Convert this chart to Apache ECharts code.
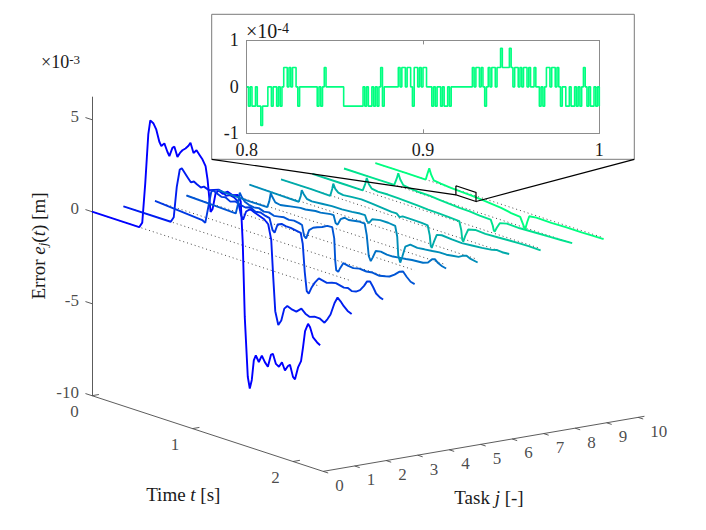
<!DOCTYPE html>
<html><head><meta charset="utf-8">
<script src="https://cdn.jsdelivr.net/npm/echarts@6/dist/echarts.min.js"></script>
<style>html,body{margin:0;padding:0;background:#fff}#c{width:706px;height:530px}</style>
</head><body><div id="c"></div>
<script>
// ---------------- DATA ----------------
const TASKS = [0,1,2,3,4,5,6,7,8,9];
const TIME_TICKS = [0,1,2];
const ERROR_TICKS = [-10,-5,0,5];          // x 10^-3 m
const TASK_TICKS = [0,1,2,3,4,5,6,7,8,9,10];
const T_END = 2.27;                         // end of recorded time [s]
// each task: [time s, error x10^-3 m]
const task0 = [[0,0],[0.47,0],[0.5,0.3],[0.53,2.5],[0.56,5.2],[0.58,6.0],[0.61,5.9],[0.64,5.6],[0.67,5.0],[0.69,4.8],[0.72,5.0],[0.75,4.6],[0.77,4.4],[0.8,4.9],[0.82,5.0],[0.85,4.5],[0.88,4.8],[0.9,4.95],[0.93,5.1],[0.96,5.3],[0.98,5.5],[1.01,5.0],[1.04,5.2],[1.07,5.0],[1.1,4.8],[1.13,4.5],[1.15,3.8],[1.18,2.1],[1.2,2.3],[1.23,3.2],[1.26,3.4],[1.3,3.3],[1.35,3.5],[1.4,3.4],[1.45,3.5],[1.48,3.2],[1.5,1.0],[1.52,-3.0],[1.55,-6.2],[1.57,-6.8],[1.59,-6.3],[1.61,-5.2],[1.63,-4.9],[1.66,-5.2],[1.69,-4.8],[1.72,-5.1],[1.75,-5.3],[1.78,-4.6],[1.8,-4.5],[1.83,-5.0],[1.86,-5.1],[1.89,-4.8],[1.92,-5.2],[1.95,-4.9],[1.97,-4.8],[2.0,-5.4],[2.02,-5.5],[2.05,-4.8],[2.08,-4.4],[2.1,-3.6],[2.12,-2.7],[2.15,-2.25],[2.17,-2.4],[2.2,-2.9],[2.24,-3.1],[2.27,-3.2]];
const task1 = [[0,0],[0.47,0],[0.5,0.3],[0.53,2.0],[0.56,3.0],[0.58,3.1],[0.61,2.9],[0.64,2.7],[0.67,2.5],[0.7,2.6],[0.73,2.5],[0.77,2.4],[0.8,2.5],[0.85,2.4],[0.9,2.5],[0.95,2.6],[0.98,2.55],[1.02,2.4],[1.06,2.5],[1.1,2.45],[1.14,2.3],[1.17,1.6],[1.19,1.4],[1.22,1.9],[1.26,2.1],[1.3,2.0],[1.35,1.9],[1.4,1.8],[1.44,1.6],[1.47,0.8],[1.49,-1.2],[1.51,-3.0],[1.54,-3.7],[1.57,-3.4],[1.6,-2.7],[1.63,-2.5],[1.67,-2.6],[1.72,-2.65],[1.77,-2.4],[1.81,-2.6],[1.85,-2.7],[1.9,-2.6],[1.95,-2.6],[2.0,-2.75],[2.03,-2.5],[2.06,-2.2],[2.1,-1.5],[2.13,-1.15],[2.16,-1.3],[2.19,-1.5],[2.23,-1.7],[2.27,-1.8]];
const task2 = [[0,0],[0.47,-0.2],[0.5,-0.3],[0.53,0.6],[0.56,1.5],[0.58,1.6],[0.62,1.5],[0.66,1.4],[0.7,1.45],[0.75,1.3],[0.8,1.4],[0.85,1.3],[0.9,1.25],[0.95,1.35],[1.0,1.2],[1.05,1.25],[1.1,1.15],[1.14,1.1],[1.17,0.5],[1.19,0.4],[1.22,0.9],[1.26,1.0],[1.3,0.95],[1.35,0.95],[1.4,0.9],[1.45,0.85],[1.47,0.3],[1.49,-1.2],[1.51,-2.2],[1.53,-2.3],[1.56,-1.9],[1.59,-1.6],[1.63,-1.3],[1.67,-1.35],[1.71,-1.4],[1.76,-1.3],[1.8,-1.25],[1.84,-1.3],[1.88,-1.35],[1.92,-1.3],[1.96,-1.4],[2.0,-1.35],[2.04,-1.2],[2.08,-0.9],[2.11,-0.6],[2.14,-0.55],[2.17,-0.8],[2.2,-1.1],[2.24,-1.25],[2.27,-1.3]];
const task3 = [[0,0],[0.3,-0.05],[0.49,-0.1],[0.51,0.4],[0.53,1.1],[0.55,0.9],[0.58,0.7],[0.62,0.6],[0.67,0.55],[0.72,0.6],[0.77,0.5],[0.82,0.55],[0.87,0.45],[0.92,0.5],[0.97,0.55],[1.02,0.5],[1.07,0.55],[1.12,0.5],[1.15,0.45],[1.17,-0.1],[1.19,-0.2],[1.22,0.3],[1.26,0.5],[1.3,0.6],[1.35,0.7],[1.4,0.85],[1.45,0.87],[1.47,0.3],[1.48,-0.9],[1.49,-1.4],[1.51,-1.45],[1.53,-1.2],[1.56,-0.89],[1.61,-0.95],[1.66,-0.98],[1.72,-0.9],[1.79,-0.93],[1.85,-0.88],[1.92,-0.93],[1.98,-0.85],[2.02,-0.79],[2.07,-0.6],[2.12,-0.35],[2.155,-0.28],[2.19,-0.5],[2.23,-0.7],[2.27,-0.76]];
const task4 = [[0,0],[0.3,-0.05],[0.49,-0.05],[0.51,0.3],[0.525,0.77],[0.54,0.6],[0.57,0.35],[0.62,0.3],[0.67,0.35],[0.72,0.4],[0.77,0.45],[0.82,0.5],[0.87,0.5],[0.92,0.55],[0.97,0.6],[1.02,0.6],[1.07,0.65],[1.12,0.7],[1.15,0.7],[1.17,0.3],[1.19,0.25],[1.22,0.6],[1.26,0.75],[1.3,0.7],[1.35,0.75],[1.4,0.8],[1.46,0.79],[1.48,0.2],[1.5,-0.9],[1.52,-1.14],[1.54,-0.9],[1.57,-0.5],[1.62,-0.45],[1.68,-0.5],[1.74,-0.5],[1.8,-0.45],[1.87,-0.4],[1.93,-0.35],[1.99,-0.32],[2.04,-0.3],[2.09,-0.2],[2.13,0.05],[2.16,0.1],[2.19,-0.05],[2.23,-0.15],[2.27,-0.2]];
const task5 = [[0,0],[0.3,-0.03],[0.49,-0.05],[0.51,0.3],[0.52,0.63],[0.54,0.45],[0.57,0.25],[0.62,0.2],[0.72,0.25],[0.82,0.3],[0.92,0.3],[1.02,0.35],[1.1,0.4],[1.15,0.4],[1.17,0.1],[1.19,0.05],[1.22,0.3],[1.3,0.4],[1.38,0.4],[1.45,0.35],[1.47,-0.2],[1.48,-1.2],[1.5,-1.55],[1.52,-1.2],[1.55,-0.6],[1.6,-0.4],[1.67,-0.45],[1.74,-0.4],[1.82,-0.35],[1.89,-0.3],[1.96,-0.3],[2.02,-0.25],[2.08,-0.2],[2.13,-0.05],[2.16,0.0],[2.2,-0.1],[2.27,-0.17]];
const task6 = [[0,0],[0.3,0.0],[0.49,-0.02],[0.51,0.4],[0.52,0.69],[0.54,0.45],[0.57,0.3],[0.62,0.25],[0.7,0.3],[0.8,0.34],[0.9,0.3],[1.0,0.25],[1.1,0.2],[1.15,0.2],[1.18,0.05],[1.21,0.15],[1.3,0.15],[1.4,0.13],[1.46,0.1],[1.48,-0.4],[1.49,-0.95],[1.5,-1.05],[1.52,-0.7],[1.55,-0.25],[1.6,-0.18],[1.7,-0.22],[1.8,-0.25],[1.9,-0.2],[2.0,-0.15],[2.1,-0.08],[2.15,0.0],[2.2,-0.03],[2.27,0.0]];
const task7 = [[0,0],[0.3,0.0],[0.5,0.0],[0.525,0.4],[0.54,0.74],[0.56,0.45],[0.59,0.25],[0.65,0.2],[0.75,0.22],[0.85,0.2],[0.95,0.18],[1.05,0.15],[1.15,0.12],[1.25,0.1],[1.35,0.08],[1.46,0.05],[1.48,-0.4],[1.49,-0.9],[1.5,-1.0],[1.52,-0.65],[1.55,-0.25],[1.62,-0.15],[1.72,-0.18],[1.85,-0.15],[1.95,-0.12],[2.05,-0.1],[2.15,-0.08],[2.27,-0.1]];
const task8 = [[0,0],[0.3,0.0],[0.5,0.0],[0.525,0.4],[0.54,0.71],[0.56,0.4],[0.59,0.15],[0.65,0.1],[0.75,0.05],[0.85,0.05],[0.95,0.0],[1.05,-0.05],[1.15,-0.08],[1.25,-0.1],[1.35,-0.15],[1.46,-0.17],[1.48,-0.45],[1.49,-0.7],[1.5,-0.75],[1.52,-0.5],[1.55,-0.2],[1.62,-0.1],[1.75,-0.12],[1.9,-0.08],[2.05,-0.05],[2.15,-0.03],[2.27,0.0]];
const task9 = [[0,0],[0.3,0.0],[0.5,0.0],[0.52,0.4],[0.535,0.67],[0.555,0.35],[0.58,0.1],[0.65,0.05],[0.75,0.0],[0.85,-0.03],[0.95,-0.05],[1.05,-0.1],[1.15,-0.15],[1.25,-0.2],[1.35,-0.3],[1.44,-0.35],[1.46,-0.6],[1.48,-0.85],[1.49,-0.92],[1.51,-0.5],[1.53,-0.15],[1.6,-0.1],[1.75,-0.12],[1.9,-0.1],[2.05,-0.1],[2.15,-0.08],[2.27,-0.07]];
const TASK_ERRORS = [task0,task1,task2,task3,task4,task5,task6,task7,task8,task9];

// zoomed window (task 9, t = 0.8 ... 1.0 s), quantised error in encoder steps
const ZOOM_TASK = 9;
const ZOOM_T = [0.8, 1.0];
const ZOOM_BOX_E = [-0.3, 0.2];             // x 10^-3 m, marker box on task 9
const INSET_T0 = 0.8, INSET_DT = 0.001;
const INSET_STEP = 0.415;                   // x 10^-4 m per encoder count
const INSET_COUNTS = [
 0,-1,0,-1,-1,0,-1, -1,-2,-1, -1,-1, 0,0,-1,0,0,-1,0,-1,
 0,1,1,0,1,0,1,1, 0,-1,0,0, 0,0,0,0,0,0,0,0, -1,0,-1, 0,1,
 0,0,0,0,0,0,0,0,0,0, -1,-1,-1,-1,-1,-1,-1,-1,-1,-1,-1,
 0,-1,0,-1,-1,0,-1,0,-1,0, 1, -1,0,0,0,0,0,0,0,0,
 1,0,1,1,0,1,1,0, -1, 1,1,0,1,0,1,1,0,0, 0,-1,0,-1,0,0,-1,
 0,-1,-1,0,-1,0, 0,0,0,0,0,0,0,0,0,0,0, 1,0,1,1,0,1,0, -1,
 0,1,0,1,1,0, 1,1,2,1,1,1,1,2, 1,0,1,1,0,1,0,1,1,0,1,
 0,0,1,0,0, -1,0,-1,0,1, 1,0,1,1,0,1, 0,-1,0,0,-1,
 -1,0,-1,-1,0,-1,0,-1,0, 1, 0,-1,0,-1,-1,0,-1,0,-1];
const INSET_X_TICKS_INTERVAL = 0.1;
const INSET_Y_TICKS_INTERVAL = 1;

// ---------------- LAYOUT (oblique 3-D view) ----------------
const W = 706, H = 530;
const ORIGIN = [92, 211.7];        // screen point of t=0, j=0, e=0
const T_PX = [100.5, 32.9];        // screen shift per second
const J_PX = [31.5, -5.4];         // screen shift per task
const E_PX = 18.4;                 // screen px per 1e-3 m (upwards)
const E_MIN = -10, E_MAX = 6.25, T_AX = 2.3, J_AX = 10.2;
const SERIF = 'Liberation Serif, DejaVu Serif, serif';
const TXT = '#1a1a1a';
const TICK_FS = 17, TITLE_FS = 19;

// (t, j, e) -> oblique axis units (u along screen x in s, v along screen y in 1e-3 m)
function proj(t, j, e) {
  return [t + j * J_PX[0] / T_PX[0], e - (t * T_PX[1] + j * J_PX[1]) / E_PX];
}
function pxToUV(x, y) { return [(x - ORIGIN[0]) / T_PX[0], (ORIGIN[1] - y) / E_PX]; }
function winter(j) {
  const c = j / (TASKS.length - 1);
  return 'rgb(0,' + Math.round(255 * c) + ',' + Math.round(255 * (1 - c / 2)) + ')';
}

const series = [];
// zero reference lines
series.push({
  type: 'lines', coordinateSystem: 'cartesian2d', xAxisIndex: 0, yAxisIndex: 0, silent: true, z: 1,
  lineStyle: { color: '#333', width: 1, type: [1, 3], opacity: 0.9 },
  data: TASKS.map(j => ({ coords: [proj(0, j, 0), proj(T_END, j, 0)] }))
});
// error curves
TASKS.forEach((j, k) => {
  series.push({
    type: 'line', name: 'Task ' + j, xAxisIndex: 0, yAxisIndex: 0, z: 3, silent: true,
    showSymbol: false, symbol: 'none',
    lineStyle: { color: winter(j), width: 1.9 }, itemStyle: { color: winter(j) },
    data: TASK_ERRORS[k].map(([t, e]) => proj(t, j, e))
  });
});
// 3-D axis lines and ticks
const axisSegs = [
  [proj(0, 0, E_MIN), proj(0, 0, E_MAX)],
  [proj(0, 0, E_MIN), proj(T_AX, 0, E_MIN)],
  [proj(T_AX, 0, E_MIN), proj(T_AX, J_AX, E_MIN)]
];
ERROR_TICKS.forEach(e => axisSegs.push([proj(0, 0, e), proj(-0.065, 0, e)]));
TIME_TICKS.forEach(t => axisSegs.push([proj(t, 0, E_MIN), proj(t, 0.22, E_MIN)]));
TASK_TICKS.forEach(j => axisSegs.push([proj(T_AX, j, E_MIN), proj(T_AX + 0.05, j, E_MIN)]));
series.push({
  type: 'lines', coordinateSystem: 'cartesian2d', xAxisIndex: 0, yAxisIndex: 0, silent: true, z: 2,
  lineStyle: { color: '#4a4a4a', width: 0.9, opacity: 1 },
  data: axisSegs.map(c => ({ coords: c }))
});
// zoom marker box + connectors
const zb = [
  proj(ZOOM_T[0], ZOOM_TASK, ZOOM_BOX_E[1]), proj(ZOOM_T[1], ZOOM_TASK, ZOOM_BOX_E[1]),
  proj(ZOOM_T[1], ZOOM_TASK, ZOOM_BOX_E[0]), proj(ZOOM_T[0], ZOOM_TASK, ZOOM_BOX_E[0]),
  proj(ZOOM_T[0], ZOOM_TASK, ZOOM_BOX_E[1])
];
const INSET_BOX = { x: 211.7, y: 14.3, w: 422.6, h: 145 };
series.push({
  type: 'lines', coordinateSystem: 'cartesian2d', xAxisIndex: 0, yAxisIndex: 0, silent: true, z: 4,
  polyline: true, lineStyle: { color: '#000', width: 1.2, opacity: 1 },
  data: [
    { coords: zb },
    { coords: [pxToUV(INSET_BOX.x, INSET_BOX.y + INSET_BOX.h), zb[3]] },
    { coords: [pxToUV(INSET_BOX.x + INSET_BOX.w, INSET_BOX.y + INSET_BOX.h), zb[2]] }
  ]
});
// tick labels on the 3-D axes
const lbl = { show: true, formatter: '{b}', fontFamily: SERIF, fontSize: TICK_FS, color: TXT };
series.push({
  type: 'scatter', xAxisIndex: 0, yAxisIndex: 0, symbolSize: 0, silent: true, z: 5,
  label: Object.assign({}, lbl, { position: 'inside', align: 'right', verticalAlign: 'middle', offset: [-13, -3] }),
  data: ERROR_TICKS.map(e => ({ name: String(e), value: proj(0, 0, e) }))
});
series.push({
  type: 'scatter', xAxisIndex: 0, yAxisIndex: 0, symbolSize: 0, silent: true, z: 5,
  label: Object.assign({}, lbl, { position: 'inside', offset: [-17.5, 16] }),
  data: TIME_TICKS.map(t => ({ name: String(t), value: proj(t, 0, E_MIN) }))
});
series.push({
  type: 'scatter', xAxisIndex: 0, yAxisIndex: 0, symbolSize: 0, silent: true, z: 5,
  label: Object.assign({}, lbl, { position: 'inside', align: 'left', offset: [12, 14] }),
  data: TASK_TICKS.map(j => ({ name: String(j), value: proj(T_AX, j, E_MIN) }))
});
// inset signal
series.push({
  type: 'line', xAxisIndex: 1, yAxisIndex: 1, z: 8, silent: true, step: 'end',
  showSymbol: false, symbol: 'none',
  lineStyle: { color: winter(ZOOM_TASK), width: 1.6 }, itemStyle: { color: winter(ZOOM_TASK) },
  data: INSET_COUNTS.map((q, i) => [+(INSET_T0 + i * INSET_DT).toFixed(3), q * INSET_STEP])
});

const insetAxisLine = { show: true, onZero: false, lineStyle: { color: '#8c8c8c', width: 1 } };
const insetTick = { show: true, inside: true, length: 4, lineStyle: { color: '#8c8c8c' } };
const insetLabel = { fontFamily: SERIF, fontSize: 18, color: TXT };

const supRich = (fs, sfs) => ({
  a: { fontFamily: SERIF, fontSize: fs, fill: TXT, verticalAlign: 'middle' },
  s: { fontFamily: SERIF, fontSize: sfs, fill: TXT, lineHeight: sfs, padding: [0, 0, 12, 0], verticalAlign: 'top' }
});

const option = {
  animation: false,
  backgroundColor: '#fff',
  grid: [
    { left: 0, top: 0, width: W, height: H },
    { left: 246.7, top: 40.4, width: 352.6, height: 92.9, z: 6 }
  ],
  xAxis: [
    { gridIndex: 0, type: 'value', show: false, min: -ORIGIN[0] / T_PX[0], max: (W - ORIGIN[0]) / T_PX[0] },
    { gridIndex: 1, type: 'value', position: 'bottom', min: 0.8, max: 1, interval: INSET_X_TICKS_INTERVAL, z: 7,
      axisLine: insetAxisLine, axisTick: insetTick, splitLine: { show: false },
      axisLabel: Object.assign({ margin: 8 }, insetLabel) },
    { gridIndex: 1, type: 'value', position: 'top', min: 0.8, max: 1, interval: INSET_X_TICKS_INTERVAL, z: 7,
      axisLine: insetAxisLine, axisTick: insetTick, splitLine: { show: false }, axisLabel: { show: false } }
  ],
  yAxis: [
    { gridIndex: 0, type: 'value', show: false, min: -(H - ORIGIN[1]) / E_PX, max: ORIGIN[1] / E_PX },
    { gridIndex: 1, type: 'value', position: 'left', min: -1, max: 1, interval: INSET_Y_TICKS_INTERVAL, z: 7,
      axisLine: insetAxisLine, axisTick: insetTick, splitLine: { show: false },
      axisLabel: Object.assign({ margin: 8 }, insetLabel) },
    { gridIndex: 1, type: 'value', position: 'right', min: -1, max: 1, interval: INSET_Y_TICKS_INTERVAL, z: 7,
      axisLine: insetAxisLine, axisTick: insetTick, splitLine: { show: false }, axisLabel: { show: false } }
  ],
  graphic: [
    { type: 'rect', z: 1, silent: true,
      shape: { x: INSET_BOX.x, y: INSET_BOX.y, width: INSET_BOX.w, height: INSET_BOX.h },
      style: { fill: '#fff', stroke: '#7a7a7a', lineWidth: 1 } },
    { type: 'text', z: 9, x: 41, y: 62, silent: true,
      style: { text: '{a|×10}{s|-3}', align: 'left', verticalAlign: 'middle', fill: TXT, rich: supRich(18, 13) } },
    { type: 'text', z: 9, x: 246, y: 31, silent: true,
      style: { text: '{a|×10}{s|-4}', align: 'left', verticalAlign: 'middle', fill: TXT, rich: supRich(20, 14) } },
    { type: 'text', z: 9, x: 183.3, y: 494, silent: true,
      style: { text: '{n|Time }{i|t}{n| [s]}', align: 'center', verticalAlign: 'middle', fill: TXT,
        rich: { n: { fontFamily: SERIF, fontSize: TITLE_FS, fill: TXT }, i: { fontFamily: SERIF, fontSize: TITLE_FS, fontStyle: 'italic', fill: TXT } } } },
    { type: 'text', z: 9, x: 489, y: 497, silent: true,
      style: { text: '{n|Task }{i|j}{n| [-]}', align: 'center', verticalAlign: 'middle', fill: TXT,
        rich: { n: { fontFamily: SERIF, fontSize: TITLE_FS, fill: TXT }, i: { fontFamily: SERIF, fontSize: TITLE_FS, fontStyle: 'italic', fill: TXT } } } },
    { type: 'text', z: 9, x: 38, y: 246, rotation: Math.PI / 2, silent: true,
      style: { text: '{n|Error }{i|e}{s|j}{n|(}{i|t}{n|) [m]}', align: 'center', verticalAlign: 'middle', fill: TXT,
        rich: { n: { fontFamily: SERIF, fontSize: TITLE_FS, fill: TXT, lineHeight: 22, verticalAlign: 'middle' },
                i: { fontFamily: SERIF, fontSize: TITLE_FS, fontStyle: 'italic', fill: TXT, lineHeight: 22, verticalAlign: 'middle' },
                s: { fontFamily: SERIF, fontSize: 13, fontStyle: 'italic', fill: TXT, lineHeight: 13, verticalAlign: 'bottom' } } } }
  ],
  series: series
};
const chart = echarts.init(document.getElementById('c'), null, { renderer: 'svg', width: W, height: H });
chart.setOption(option);
</script>
</body></html>
